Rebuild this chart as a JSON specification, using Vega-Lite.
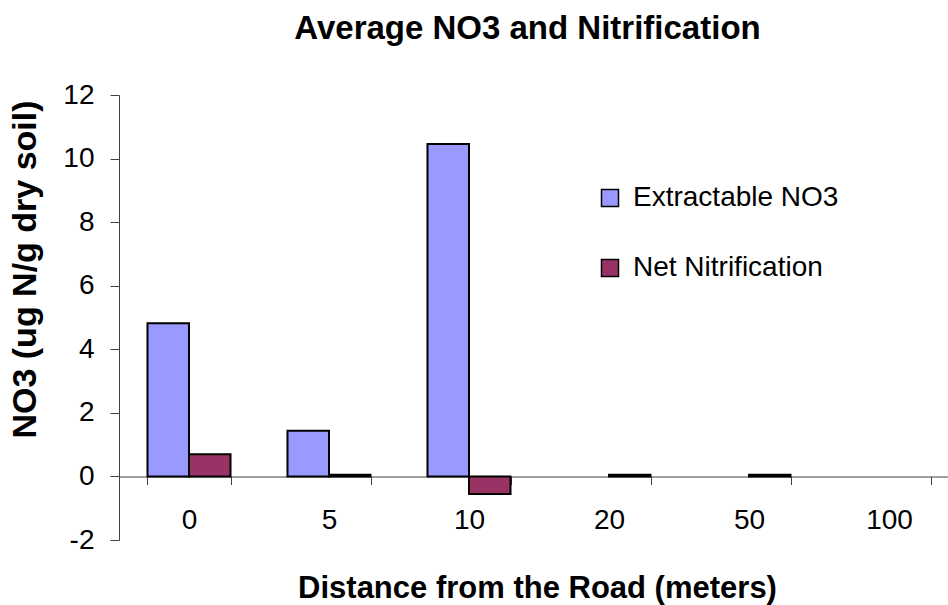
{
  "$schema": "https://vega.github.io/schema/vega-lite/v6.json",
  "autosize": {"type": "none"},
  "width": 829,
  "height": 445,
  "padding": {"left": 119, "top": 95, "right": 0, "bottom": 65},
  "background": "white",
  "title": {
    "text": "Average NO3 and Nitrification",
    "font": "Liberation Sans",
    "fontSize": 33,
    "fontWeight": "bold",
    "color": "black",
    "anchor": "middle",
    "frame": "group",
    "dx": -6,
    "offset": 35
  },
  "data": {
    "values": [
      {"distance": "0", "series": "Extractable NO3", "value": 4.82},
      {"distance": "0", "series": "Net Nitrification", "value": 0.7},
      {"distance": "5", "series": "Extractable NO3", "value": 1.44},
      {"distance": "5", "series": "Net Nitrification", "value": 0.05},
      {"distance": "10", "series": "Extractable NO3", "value": 10.46},
      {"distance": "10", "series": "Net Nitrification", "value": -0.55},
      {"distance": "20", "series": "Net Nitrification", "value": 0.05},
      {"distance": "50", "series": "Net Nitrification", "value": 0.05}
    ]
  },
  "mark": {"type": "bar", "stroke": "black", "strokeWidth": 2},
  "encoding": {
    "x": {
      "field": "distance",
      "type": "nominal",
      "scale": {"domain": ["0", "5", "10", "20", "50", "100"], "range": [0, 840], "paddingInner": 0.407, "paddingOuter": 0.2035},
      "axis": {
        "title": "Distance from the Road (meters)",
        "titleFont": "Liberation Sans",
        "titleFontSize": 31,
        "titleFontWeight": "bold",
        "titleColor": "black",
        "titleY": 121,
        "titleX": 418,
        "titleBaseline": "alphabetic",
        "labelAngle": 0,
        "labelFont": "Liberation Sans",
        "labelFontSize": 28,
        "labelColor": "black",
        "labelPadding": 22,
        "tickBand": "extent",
        "tickSize": 8,
        "tickColor": "#404040",
        "domainColor": "#404040",
        "offset": -63.5,
        "grid": false
      }
    },
    "xOffset": {"field": "series", "type": "nominal", "sort": ["Extractable NO3", "Net Nitrification"]},
    "y": {
      "field": "value",
      "type": "quantitative",
      "scale": {"domain": [-2, 12], "nice": false, "zero": false},
      "axis": {
        "title": "NO3 (ug N/g dry soil)",
        "titleFont": "Liberation Sans",
        "titleFontSize": 34,
        "titleFontWeight": "bold",
        "titleColor": "black",
        "titleX": -94,
        "titleY": 174,
        "titleAngle": -90,
        "titleAlign": "center",
        "titleBaseline": "middle",
        "values": [-2, 0, 2, 4, 6, 8, 10, 12],
        "labelExpr": "datum.value < 0 ? '-' + abs(datum.value) : '' + datum.value",
        "labelFont": "Liberation Sans",
        "labelFontSize": 28,
        "labelColor": "black",
        "labelPadding": 16,
        "tickSize": 9,
        "tickColor": "#404040",
        "domainColor": "#404040",
        "grid": false
      }
    },
    "color": {
      "field": "series",
      "type": "nominal",
      "scale": {"domain": ["Extractable NO3", "Net Nitrification"], "range": ["#9999FF", "#993366"]},
      "legend": {
        "title": null,
        "orient": "none",
        "legendX": 477,
        "legendY": 89,
        "symbolType": "square",
        "symbolSize": 289,
        "symbolStrokeColor": "black",
        "symbolStrokeWidth": 1.5,
        "symbolOpacity": 1,
        "labelFont": "Liberation Sans",
        "labelFontSize": 28,
        "labelColor": "black",
        "labelOffset": 9,
        "rowPadding": 42,
        "labelLimit": 400
      }
    }
  },
  "config": {"view": {"stroke": null}}
}
